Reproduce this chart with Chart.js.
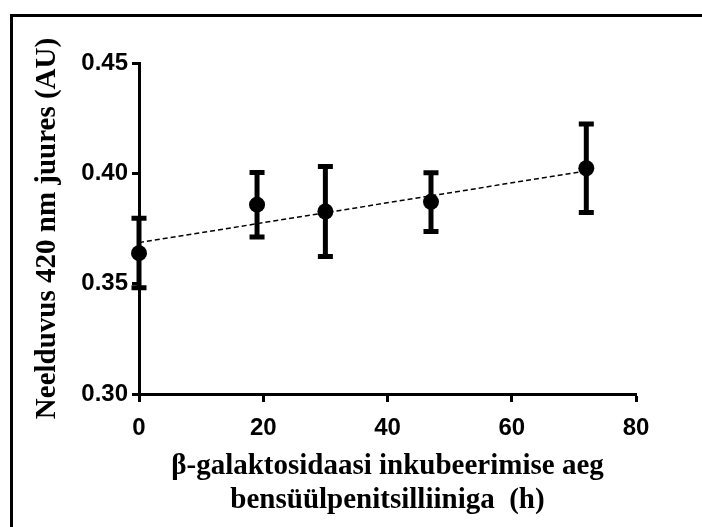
<!DOCTYPE html>
<html>
<head>
<meta charset="utf-8">
<script src="https://cdn.jsdelivr.net/npm/chart.js@4.4.1/dist/chart.umd.min.js"></script>
<style>
  html, body { margin: 0; padding: 0; background: #fff; }
  #wrap { position: relative; width: 702px; height: 527px; overflow: hidden; }
  #frame { position: absolute; left: 10px; top: 14px; width: 800px; height: 600px;
           border-left: 3px solid #000; border-top: 3px solid #000; }
  #myChart { position: absolute; left: 0; top: 0; }
</style>
</head>
<body>
<div id="wrap">
  <div id="frame"></div>
  <canvas id="myChart" width="702" height="527"></canvas>
</div>
<script>
// hours of incubation
const hours = [0, 19, 30, 47, 72];
// mean absorbance at 420 nm
const absorbance = [0.3638, 0.3858, 0.3827, 0.3871, 0.4023];
// error bar ends
const errHigh = [0.3797, 0.4004, 0.4031, 0.4003, 0.4224];
const errLow = [0.3482, 0.3711, 0.3623, 0.3736, 0.3822];
// dashed fit line end points
const fitX = [0, 72];
const fitY = [0.3686, 0.4011];

const xTitle = ['\u03b2-galaktosidaasi inkubeerimise aeg', 'bens\u00fc\u00fclpenitsilliiniga  (h)'];
const yTitle = 'Neelduvus 420 nm juures (AU)';

const titleFont = { family: '"Liberation Serif", "Times New Roman", serif', size: 29, weight: 'bold', lineHeight: 1.17 };
const tickFont = { family: '"Liberation Sans", Arial, sans-serif', size: 24, weight: 'bold' };

// draws the vertical error bars with caps, using the chart scales
const errorBars = {
  id: 'errorBars',
  afterDatasetsDraw(chart) {
    const ctx = chart.ctx;
    const xs = chart.scales.x;
    const ys = chart.scales.y;
    ctx.save();
    ctx.strokeStyle = '#000';
    hours.forEach((h, i) => {
      const px = xs.getPixelForValue(h);
      const top = ys.getPixelForValue(errHigh[i]);
      const bot = ys.getPixelForValue(errLow[i]);
      ctx.lineWidth = 5;
      ctx.beginPath();
      ctx.moveTo(px, top);
      ctx.lineTo(px, bot);
      ctx.stroke();
      ctx.lineWidth = 5;
      ctx.beginPath();
      ctx.moveTo(px - 7.5, top);
      ctx.lineTo(px + 7.5, top);
      ctx.moveTo(px - 7.5, bot);
      ctx.lineTo(px + 7.5, bot);
      ctx.stroke();
    });
    ctx.restore();
  }
};

function mainEvent() {
  const target = document.querySelector('#myChart');
  const points = hours.map((h, i) => ({ x: h, y: absorbance[i] }));
  const fit = fitX.map((h, i) => ({ x: h, y: fitY[i] }));

  new Chart(target, {
    type: 'scatter',
    data: {
      datasets: [
        {
          label: 'fit',
          type: 'line',
          data: fit,
          borderColor: '#000',
          borderWidth: 1.5,
          borderDash: [5, 3],
          pointRadius: 0,
          fill: false,
          clip: false
        },
        {
          label: 'mean',
          data: points,
          pointRadius: 8,
          pointHoverRadius: 8,
          backgroundColor: '#000',
          borderWidth: 0,
          clip: false
        }
      ]
    },
    options: {
      responsive: false,
      animation: false,
      devicePixelRatio: 1,
      layout: { padding: { left: 0, right: 66, top: 63, bottom: 0 } },
      plugins: { legend: { display: false }, tooltip: { enabled: false } },
      scales: {
        x: {
          type: 'linear',
          min: 0,
          max: 80,
          afterFit: (scale) => { scale.height = 133; },
          border: { display: true, color: '#000', width: 3 },
          grid: { drawOnChartArea: false, drawTicks: true, tickLength: 8, tickWidth: 3, color: '#000' },
          ticks: { stepSize: 20, color: '#000', font: tickFont, padding: 12 },
          title: { display: true, text: xTitle, color: '#000', font: titleFont, padding: { top: 0, bottom: 10 } }
        },
        y: {
          type: 'linear',
          min: 0.30,
          max: 0.45,
          afterFit: (scale) => { scale.width = 139; },
          border: { display: true, color: '#000', width: 3 },
          grid: { drawOnChartArea: false, drawTicks: true, tickLength: 7, tickWidth: 3, color: '#000' },
          ticks: { stepSize: 0.05, color: '#000', font: tickFont, padding: 4,
                   callback: (v) => v.toFixed(2) },
          title: { display: true, text: yTitle, color: '#000', font: titleFont, padding: { top: 31, bottom: 0 } }
        }
      }
    },
    plugins: [errorBars]
  });
}

document.addEventListener('DOMContentLoaded', () => mainEvent());
</script>
</body>
</html>
